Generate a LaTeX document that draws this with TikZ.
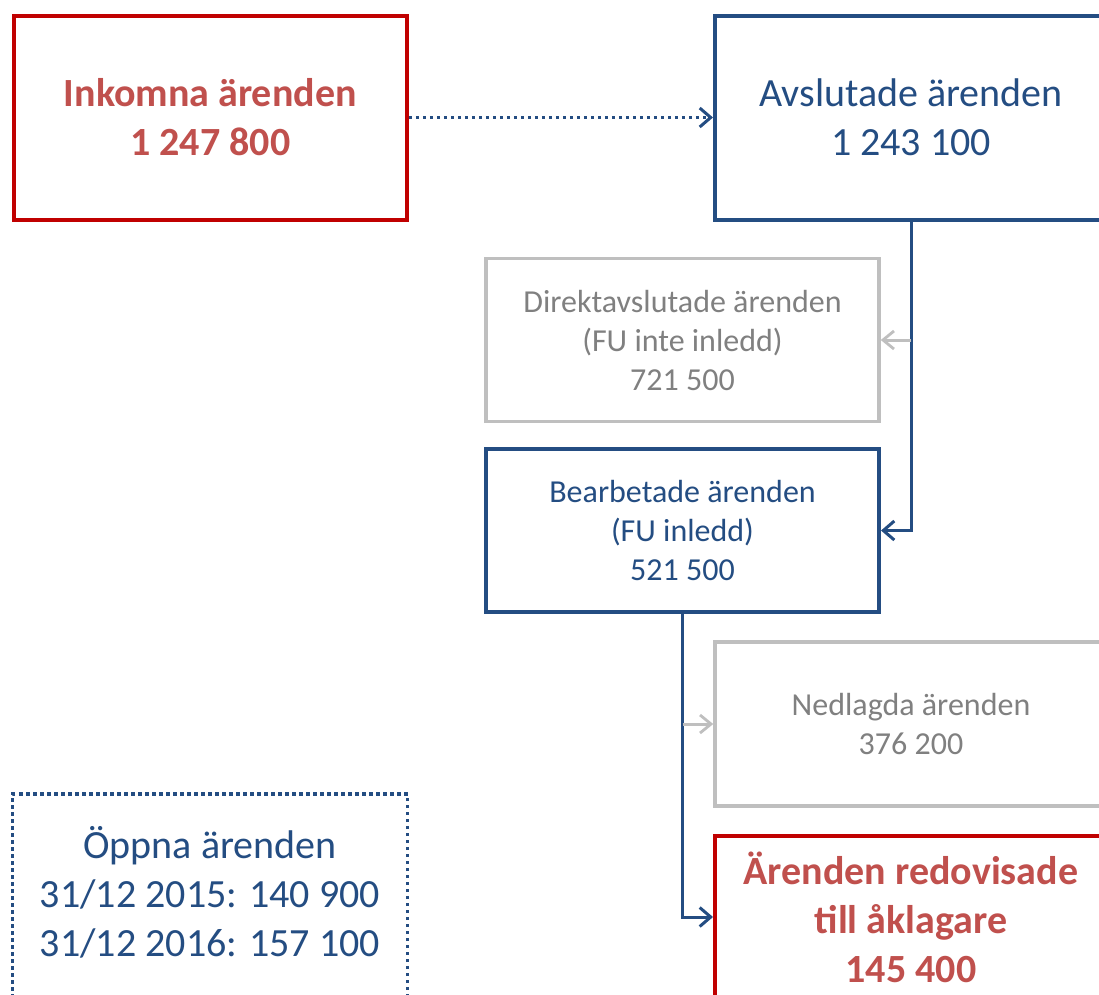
\documentclass[tikz,border=0pt]{standalone}
\usepackage{fontspec}
\setmainfont{Carlito}
\usetikzlibrary{arrows.meta}
\definecolor{bred}{HTML}{C00000}
\definecolor{tred}{HTML}{C0504D}
\definecolor{dblue}{HTML}{244D82}
\definecolor{lgray}{HTML}{BFBFBF}
\definecolor{tgray}{HTML}{808080}
\tikzset{
  box/.style={draw, rectangle, line width=4pt, minimum width=393pt, align=center, inner sep=0pt, fill=white},
  bigtxt/.style={font=\fontsize{40}{49}\selectfont},
  smalltxt/.style={font=\fontsize{32}{39}\selectfont},
  redbox/.style={box, draw=bred, text=tred, bigtxt, minimum height=204pt},
  bluebig/.style={box, draw=dblue, text=dblue, bigtxt, minimum height=204pt},
  graybox/.style={box, draw=lgray, text=tgray, line width=3.5pt, minimum height=163pt},
  bluesmall/.style={box, draw=dblue, text=dblue, smalltxt, minimum height=163pt},
  dotbox/.style={box, draw=dblue, text=dblue, bigtxt, line width=3.5pt, dash pattern=on 3.5pt off 3.5pt},
  barb/.style={-{Straight Barb[length=11pt,width=19pt,line width=3pt]}},
  conn/.style={draw=dblue, line width=3pt, barb},
  grayconn/.style={draw=lgray, line width=3pt, -{Straight Barb[length=11pt,width=18pt,line width=2.8pt]}},
  dotconn/.style={draw=dblue, line width=3pt, dash pattern=on 3pt off 4pt, barb}
}
\begin{document}
\begin{tikzpicture}[x=1pt,y=-1pt]
\useasboundingbox (0,0) rectangle (1099,994);
\clip (0,0) rectangle (1099,994);
\node[redbox, font=\fontsize{40}{49}\selectfont\bfseries] (ink) at (210.25,117.5) {Inkomna ärenden\\1 247 800};
\node[bluebig, minimum width=392pt] (avs) at (911,117.5) {Avslutade ärenden\\1 243 100};
\node[graybox, smalltxt] (dir) at (682.5,340) {Direktavslutade ärenden\\(FU inte inledd)\\721 500};
\node[bluesmall] (bea) at (682.5,530.5) {Bearbetade ärenden\\(FU inledd)\\521 500};
\node[graybox, smalltxt, minimum width=392pt, minimum height=164pt] (ned) at (911,724) {Nedlagda ärenden\\376 200};
\node[redbox, font=\fontsize{40}{49}\selectfont\bfseries, minimum width=392pt, minimum height=162pt] (are) at (911,917) {Ärenden redovisade\\till åklagare\\145 400};
\node[dotbox, minimum width=395pt, minimum height=214pt, text depth=20pt] (opp) at (210,901) {Öppna ärenden\\31/12 2015: 140 900\\31/12 2016: 157 100};
\draw[dotconn] (ink.east) -- (avs.west);
\draw[conn] (avs.south) |- (bea.east);
\draw[grayconn] (avs.south |- dir.east) -- (dir.east);
\draw[conn] (bea.south) |- (are.west);
\draw[grayconn] (bea.south |- ned.west) -- (ned.west);
\end{tikzpicture}
\end{document}
